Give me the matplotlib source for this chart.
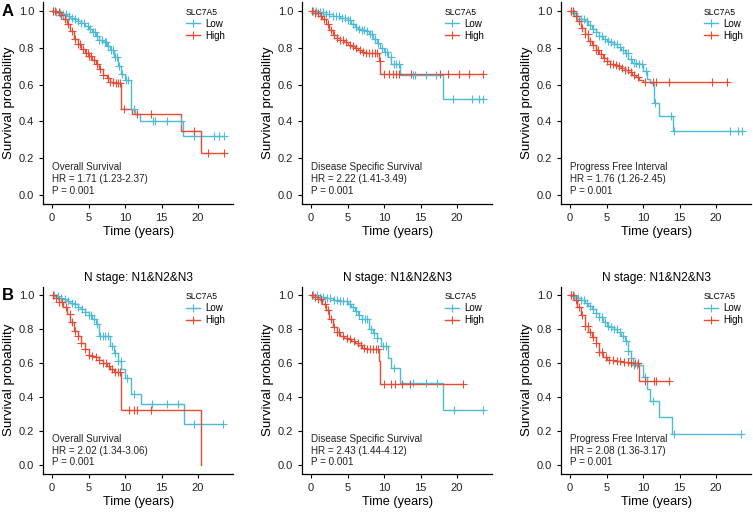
import numpy as np
import matplotlib
matplotlib.use("Agg")
import matplotlib.pyplot as plt
from matplotlib.lines import Line2D

plt.rcParams['font.family'] = ['Liberation Sans', 'DejaVu Sans']

LOW_COL = '#4DBBD5'
HIGH_COL = '#E64B35'

# --- Kurven: Ereigniszeiten (Jahre), Überleben nach dem Schritt, Zensierungen ---
# A: Overall Survival
a_os_low_t = [0, 0.5, 1.0, 1.5, 2.0, 2.5, 3.0, 3.5, 4.0, 4.5, 5.0, 5.5, 6.0, 6.5, 7.0, 7.5, 8.0, 8.5, 9.0, 9.5, 10.0, 10.8, 11.4, 12.1, 17.9]
a_os_low_s = [1.0, 0.995, 0.99, 0.985, 0.975, 0.965, 0.955, 0.945, 0.935, 0.92, 0.905, 0.885, 0.865, 0.845, 0.83, 0.81, 0.79, 0.75, 0.70, 0.66, 0.625, 0.47, 0.44, 0.40, 0.32]
a_os_low_c = [0.2, 0.6, 1.1, 1.5, 1.9, 2.3, 2.8, 3.1, 3.6, 4.0, 4.4, 4.9, 5.2, 5.6, 5.9, 6.2, 6.5, 6.9, 7.2, 7.4, 7.7, 8.1, 8.3, 8.6, 8.9, 9.2, 9.6, 10.1, 10.4, 11.2, 13.8, 14.1, 15.7, 17.6, 19.5, 22.2, 22.9, 23.6]
a_os_high_t = [0, 0.5, 1.0, 1.5, 2.0, 2.5, 3.0, 3.5, 4.0, 4.5, 5.0, 5.5, 6.0, 6.5, 7.0, 7.5, 8.0, 8.5, 9.4, 11.0, 17.6, 20.4]
a_os_high_s = [1.0, 0.995, 0.98, 0.96, 0.93, 0.89, 0.85, 0.82, 0.795, 0.77, 0.755, 0.735, 0.715, 0.685, 0.655, 0.635, 0.615, 0.61, 0.47, 0.44, 0.35, 0.23]
a_os_high_c = [0.1, 0.4, 0.9, 1.3, 1.8, 2.2, 2.7, 3.2, 3.5, 3.9, 4.3, 4.6, 4.9, 5.1, 5.4, 5.8, 6.1, 6.6, 7.0, 7.6, 8.0, 8.4, 8.7, 9.0, 9.3, 9.9, 11.6, 13.5, 19.4, 21.3, 23.6]

# A: Disease Specific Survival
a_dss_low_t = [0, 1.0, 2.0, 3.0, 4.0, 5.0, 5.5, 6.0, 6.5, 7.0, 7.5, 8.0, 8.5, 9.0, 9.5, 10.0, 10.5, 11.0, 12.2, 18.0]
a_dss_low_s = [1.0, 0.995, 0.985, 0.975, 0.965, 0.95, 0.93, 0.915, 0.905, 0.90, 0.89, 0.875, 0.85, 0.825, 0.80, 0.78, 0.75, 0.71, 0.65, 0.52]
a_dss_low_c = [0.3, 0.7, 1.2, 1.6, 2.1, 2.5, 3.0, 3.4, 3.8, 4.2, 4.6, 5.0, 5.4, 5.8, 6.2, 6.6, 7.0, 7.3, 7.7, 8.1, 8.4, 8.8, 9.2, 9.7, 10.1, 10.4, 10.9, 11.3, 11.7, 12.0, 14.0, 14.3, 15.8, 17.1, 19.5, 22.0, 23.0, 23.6]
a_dss_high_t = [0, 0.5, 1.0, 1.5, 2.0, 2.5, 3.0, 3.5, 4.0, 4.5, 5.0, 5.5, 6.0, 6.5, 7.0, 7.5, 9.3, 9.5]
a_dss_high_s = [1.0, 0.99, 0.975, 0.955, 0.93, 0.90, 0.87, 0.855, 0.845, 0.83, 0.815, 0.81, 0.80, 0.79, 0.78, 0.77, 0.73, 0.66]
a_dss_high_c = [0.1, 0.5, 0.9, 1.4, 1.8, 2.3, 2.7, 3.1, 3.6, 4.0, 4.4, 4.8, 5.3, 5.7, 6.2, 6.7, 7.1, 7.5, 7.9, 8.3, 8.7, 9.0, 9.4, 10.0, 10.7, 11.2, 11.6, 12.0, 13.7, 17.7, 18.8, 20.3, 21.6, 23.6]

# A: Progress Free Interval
a_pfi_low_t = [0, 0.5, 1.0, 1.5, 2.0, 2.5, 3.0, 3.5, 4.0, 4.5, 5.0, 5.5, 6.0, 6.5, 7.0, 7.5, 8.0, 8.5, 9.5, 10.0, 10.5, 11.0, 11.5, 12.2, 14.1]
a_pfi_low_s = [1.0, 0.99, 0.975, 0.96, 0.945, 0.925, 0.905, 0.885, 0.865, 0.85, 0.835, 0.83, 0.82, 0.805, 0.79, 0.77, 0.74, 0.72, 0.71, 0.675, 0.63, 0.61, 0.50, 0.43, 0.345]
a_pfi_low_c = [0.2, 0.6, 1.0, 1.5, 1.9, 2.3, 2.7, 3.2, 3.6, 4.0, 4.4, 4.8, 5.2, 5.6, 6.0, 6.4, 6.8, 7.2, 7.6, 7.9, 8.3, 8.7, 9.1, 9.5, 9.9, 10.4, 11.7, 13.8, 14.2, 21.9, 23.0, 23.6]
a_pfi_high_t = [0, 0.5, 1.0, 1.5, 2.0, 2.5, 3.0, 3.5, 4.0, 4.5, 5.0, 5.5, 6.0, 6.5, 7.0, 7.5, 8.0, 8.5, 9.0, 9.5, 10.0]
a_pfi_high_s = [1.0, 0.975, 0.945, 0.91, 0.875, 0.84, 0.815, 0.79, 0.765, 0.745, 0.73, 0.715, 0.705, 0.70, 0.69, 0.68, 0.67, 0.655, 0.64, 0.625, 0.612]
a_pfi_high_c = [0.1, 0.4, 0.8, 1.2, 1.6, 2.0, 2.4, 2.8, 3.2, 3.5, 3.9, 4.3, 4.7, 5.1, 5.5, 5.9, 6.3, 6.7, 7.1, 7.5, 7.9, 8.3, 8.7, 9.3, 10.2, 11.3, 11.8, 13.5, 19.4, 21.5]

# B: N stage N1&N2&N3, Overall Survival
b_os_low_t = [0, 0.5, 1.0, 1.5, 2.0, 2.5, 3.0, 3.5, 4.0, 4.5, 5.0, 5.5, 6.0, 6.4, 8.0, 8.5, 9.0, 9.5, 10.0, 10.8, 12.2, 18.0]
b_os_low_s = [1.0, 0.995, 0.985, 0.975, 0.965, 0.955, 0.945, 0.93, 0.915, 0.90, 0.88, 0.86, 0.83, 0.76, 0.70, 0.66, 0.61, 0.565, 0.51, 0.42, 0.36, 0.24]
b_os_low_c = [0.3, 0.8, 1.3, 1.8, 2.2, 2.7, 3.1, 3.6, 4.1, 4.5, 5.0, 5.4, 5.8, 6.1, 6.6, 7.0, 7.3, 7.7, 8.2, 8.6, 9.0, 9.4, 10.3, 11.2, 13.7, 15.8, 17.3, 19.5, 23.4]
b_os_high_t = [0, 0.5, 1.0, 1.5, 2.0, 2.5, 3.0, 3.5, 4.0, 4.5, 5.0, 5.5, 6.0, 6.5, 7.0, 7.5, 8.0, 8.5, 9.5, 20.4]
b_os_high_s = [1.0, 0.985, 0.96, 0.93, 0.89, 0.84, 0.79, 0.76, 0.72, 0.68, 0.645, 0.64, 0.635, 0.62, 0.60, 0.585, 0.565, 0.545, 0.325, 0.0]
b_os_high_c = [0.1, 0.5, 1.0, 1.4, 1.9, 2.4, 2.8, 3.2, 3.6, 4.0, 4.5, 5.0, 5.5, 6.0, 6.5, 7.0, 7.4, 7.8, 8.2, 8.6, 9.0, 9.3, 10.5, 11.2, 11.6, 13.6]

# B: Disease Specific Survival
b_dss_low_t = [0, 1.0, 2.0, 3.0, 4.0, 5.0, 5.5, 6.0, 6.5, 7.0, 8.0, 8.5, 9.0, 9.55, 10.5, 11.0, 12.2, 18.0]
b_dss_low_s = [1.0, 0.99, 0.98, 0.97, 0.965, 0.945, 0.93, 0.905, 0.88, 0.86, 0.80, 0.775, 0.745, 0.70, 0.63, 0.57, 0.485, 0.325]
b_dss_low_c = [0.3, 0.8, 1.3, 1.7, 2.2, 2.6, 3.1, 3.5, 4.0, 4.4, 4.9, 5.3, 5.8, 6.2, 6.6, 7.0, 7.4, 7.7, 8.2, 8.6, 9.0, 9.8, 10.2, 11.3, 14.0, 15.8, 17.2, 19.6, 23.5]
b_dss_high_t = [0, 0.5, 1.0, 1.5, 2.0, 2.5, 3.0, 3.5, 4.0, 4.5, 5.0, 5.5, 6.0, 6.5, 7.0, 7.5, 9.3, 9.5]
b_dss_high_s = [1.0, 0.99, 0.975, 0.95, 0.91, 0.86, 0.81, 0.78, 0.76, 0.745, 0.74, 0.73, 0.72, 0.705, 0.69, 0.68, 0.61, 0.475]
b_dss_high_c = [0.1, 0.5, 1.0, 1.4, 1.9, 2.3, 2.7, 3.1, 3.5, 3.9, 4.4, 4.9, 5.4, 5.9, 6.4, 6.9, 7.3, 7.7, 8.1, 8.5, 8.9, 9.2, 10.0, 11.0, 11.5, 12.5, 13.5, 20.8]

# B: Progress Free Interval
b_pfi_low_t = [0, 0.5, 1.0, 1.5, 2.0, 2.5, 3.0, 3.5, 4.0, 4.5, 5.0, 5.5, 6.0, 6.5, 7.0, 7.5, 8.0, 8.3, 8.6, 10.0, 10.6, 11.0, 12.2, 14.0]
b_pfi_low_s = [1.0, 0.995, 0.985, 0.97, 0.955, 0.935, 0.915, 0.895, 0.87, 0.84, 0.82, 0.81, 0.80, 0.78, 0.76, 0.73, 0.67, 0.63, 0.59, 0.52, 0.445, 0.375, 0.28, 0.185]
b_pfi_low_c = [0.2, 0.6, 1.1, 1.5, 1.9, 2.3, 2.8, 3.2, 3.6, 4.0, 4.4, 4.8, 5.2, 5.6, 6.0, 6.4, 6.8, 7.2, 7.6, 8.0, 8.4, 8.8, 9.2, 10.2, 11.3, 14.2, 23.4]
b_pfi_high_t = [0, 0.5, 1.0, 1.5, 2.0, 2.5, 3.0, 3.5, 4.0, 4.5, 5.0, 5.5, 6.0, 7.0, 8.0, 9.5]
b_pfi_high_s = [1.0, 0.97, 0.93, 0.88, 0.82, 0.78, 0.755, 0.715, 0.665, 0.635, 0.62, 0.615, 0.61, 0.605, 0.60, 0.495]
b_pfi_high_c = [0.1, 0.4, 0.8, 1.2, 1.6, 2.0, 2.4, 2.8, 3.2, 3.6, 4.0, 4.4, 4.9, 5.4, 5.9, 6.4, 6.9, 7.4, 7.9, 8.4, 8.9, 9.3, 10.3, 11.5, 11.8, 13.6]

endpoints = ['Overall Survival', 'Disease Specific Survival', 'Progress Free Interval']
hr_a = ['HR = 1.71 (1.23-2.37)', 'HR = 2.22 (1.41-3.49)', 'HR = 1.76 (1.26-2.45)']
hr_b = ['HR = 2.02 (1.34-3.06)', 'HR = 2.43 (1.44-4.12)', 'HR = 2.08 (1.36-3.17)']
p_text = 'P = 0.001'
b_title = 'N stage: N1&N2&N3'

curves_a = [
    (a_os_low_t, a_os_low_s, a_os_low_c, a_os_high_t, a_os_high_s, a_os_high_c),
    (a_dss_low_t, a_dss_low_s, a_dss_low_c, a_dss_high_t, a_dss_high_s, a_dss_high_c),
    (a_pfi_low_t, a_pfi_low_s, a_pfi_low_c, a_pfi_high_t, a_pfi_high_s, a_pfi_high_c),
]
curves_b = [
    (b_os_low_t, b_os_low_s, b_os_low_c, b_os_high_t, b_os_high_s, b_os_high_c),
    (b_dss_low_t, b_dss_low_s, b_dss_low_c, b_dss_high_t, b_dss_high_s, b_dss_high_c),
    (b_pfi_low_t, b_pfi_low_s, b_pfi_low_c, b_pfi_high_t, b_pfi_high_s, b_pfi_high_c),
]


def km_line(ax, t, s, c, col):
    t = np.array(t, dtype=float)
    s = np.array(s, dtype=float)
    c = np.array(c, dtype=float)
    t_end = max(t[-1], c.max())
    tt = np.append(t, t_end)
    ss = np.append(s, s[-1])
    ax.step(tt, ss, where='post', color=col, lw=1.0, zorder=3)
    idx = np.searchsorted(t, c, side='right') - 1
    ax.plot(c, s[idx], ls='none', marker='+', ms=6, mew=0.8, color=col, zorder=4)


def style_axes(ax):
    ax.set_xlim(-1.2, 24.8)
    ax.set_ylim(-0.05, 1.05)
    ax.set_xticks([0, 5, 10, 15, 20])
    ax.set_yticks([0.0, 0.2, 0.4, 0.6, 0.8, 1.0])
    ax.set_yticklabels(['0.0', '0.2', '0.4', '0.6', '0.8', '1.0'])
    for side in ['top', 'right']:
        ax.spines[side].set_visible(False)
    for side in ['left', 'bottom']:
        ax.spines[side].set_linewidth(0.9)
    ax.tick_params(direction='out', length=3, width=0.8, labelsize=8, pad=3.5,
                   colors='black', labelcolor='#222222')
    ax.set_xlabel('Time (years)', fontsize=9.2, labelpad=2.5)
    ax.set_ylabel('Survival probability', fontsize=9.6, labelpad=3)


W, H = 753, 516
fig = plt.figure(figsize=(W / 100, H / 100), dpi=100)

lefts = [43.2, 302.2, 561.2]
pw = 190

handles = [Line2D([], [], color=LOW_COL, lw=1.0, marker='+', ms=6, mew=0.8),
           Line2D([], [], color=HIGH_COL, lw=1.0, marker='+', ms=6, mew=0.8)]

for row, (top, bottom, curves, hrs) in enumerate([(2, 204, curves_a, hr_a), (286.5, 473.5, curves_b, hr_b)]):
    for j in range(3):
        ax = fig.add_axes([lefts[j] / W, 1 - bottom / H, pw / W, (bottom - top) / H])
        lt, ls_, lc, ht, hs, hc = curves[j]
        km_line(ax, lt, ls_, lc, LOW_COL)
        km_line(ax, ht, hs, hc, HIGH_COL)
        style_axes(ax)
        ax.text(0, 0.15, endpoints[j], fontsize=7.1, va='center', ha='left', color='#222222')
        ax.text(0, 0.085, hrs[j], fontsize=7.1, va='center', ha='left', color='#222222')
        ax.text(0, 0.02, p_text, fontsize=7.1, va='center', ha='left', color='#222222')
        leg = ax.legend(handles, ['Low', 'High'], title='SLC7A5', loc='upper left',
                        bbox_to_anchor=(0.72, 1.0), frameon=False, fontsize=7,
                        title_fontsize=6.2, handlelength=1.5, handletextpad=0.45,
                        labelspacing=0.2, borderpad=0.1, alignment='left')
        if row == 1:
            ax.set_title(b_title, fontsize=8.6, pad=4)

fig.text(2 / W, 1 - 11 / H, 'A', fontsize=12, fontweight='bold', va='center', ha='left')
fig.text(2 / W, 1 - 295 / H, 'B', fontsize=12, fontweight='bold', va='center', ha='left')

fig.savefig('out.png', dpi=100)
